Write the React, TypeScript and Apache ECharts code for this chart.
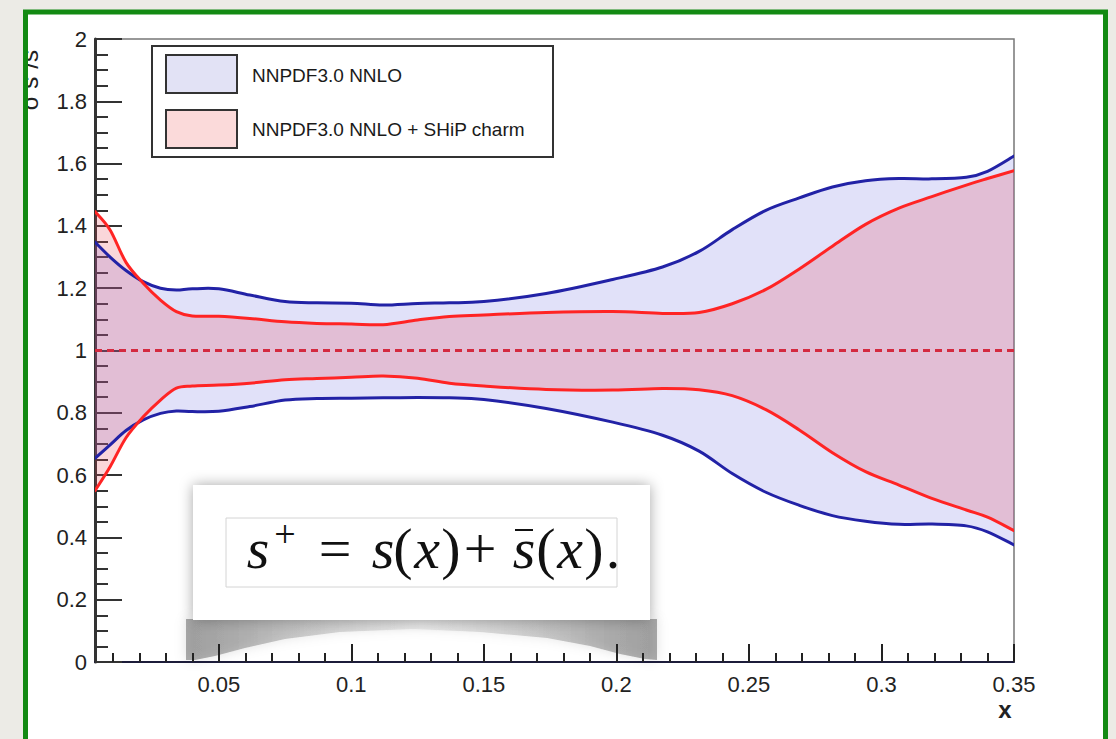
import React, { useEffect, useRef } from "react";
import * as echarts from "echarts";

// ---- data ----
const X = [0.0033, 0.009, 0.015, 0.0215, 0.028, 0.034, 0.04, 0.05, 0.0617, 0.075, 0.087, 0.1, 0.112, 0.125, 0.137, 0.15, 0.1735, 0.1986, 0.2174, 0.2312, 0.2437, 0.2564, 0.269, 0.2815, 0.294, 0.3066, 0.319, 0.332, 0.34, 0.35];
const blueUpper = [1.348, 1.300, 1.257, 1.221, 1.200, 1.194, 1.198, 1.198, 1.178, 1.157, 1.153, 1.152, 1.146, 1.151, 1.153, 1.157, 1.183, 1.228, 1.268, 1.318, 1.388, 1.450, 1.490, 1.525, 1.545, 1.552, 1.551, 1.556, 1.575, 1.624];
const blueLower = [0.654, 0.697, 0.743, 0.777, 0.798, 0.806, 0.804, 0.805, 0.820, 0.841, 0.846, 0.847, 0.848, 0.849, 0.848, 0.843, 0.814, 0.770, 0.728, 0.677, 0.605, 0.545, 0.503, 0.470, 0.452, 0.442, 0.443, 0.437, 0.418, 0.376];
const redUpper = [1.446, 1.387, 1.283, 1.216, 1.162, 1.125, 1.111, 1.110, 1.103, 1.092, 1.087, 1.085, 1.083, 1.098, 1.109, 1.114, 1.122, 1.125, 1.119, 1.122, 1.150, 1.196, 1.262, 1.335, 1.405, 1.457, 1.494, 1.531, 1.552, 1.577];
const redLower = [0.550, 0.627, 0.720, 0.787, 0.841, 0.879, 0.886, 0.889, 0.895, 0.906, 0.910, 0.914, 0.918, 0.911, 0.895, 0.886, 0.875, 0.873, 0.878, 0.874, 0.855, 0.810, 0.745, 0.672, 0.611, 0.568, 0.525, 0.488, 0.465, 0.422];
const centralValue = 1;

const X_MIN = 0.0033;
const X_MAX = 0.35;
const Y_MIN = 0;
const Y_MAX = 2;
const xMajorTicks = [0.05, 0.1, 0.15, 0.2, 0.25, 0.3, 0.35];
const xMinorTicks: number[] = [];
for (let i = 1; i <= 34; i++) xMinorTicks.push(i / 100);

const legendNames = ["NNPDF3.0 NNLO", "NNPDF3.0 NNLO + SHiP charm"];
const yTitle = "σ s⁺/s⁺";
const xTitle = "x";

const SANS = "'Liberation Sans', Arial, Helvetica, sans-serif";
const SERIF = "'Liberation Serif', 'Times New Roman', serif";
const PAPER = "#ecebe6";

function smoothPath(pts: number[][], move: boolean): string {
  let d = (move ? "M" : "L") + pts[0][0] + "," + pts[0][1];
  for (let i = 0; i < pts.length - 1; i++) {
    const p0 = pts[i - 1] || pts[i];
    const p1 = pts[i];
    const p2 = pts[i + 1];
    const p3 = pts[i + 2] || p2;
    const c1x = p1[0] + (p2[0] - p0[0]) / 6;
    const c1y = p1[1] + (p2[1] - p0[1]) / 6;
    const c2x = p2[0] - (p3[0] - p1[0]) / 6;
    const c2y = p2[1] - (p3[1] - p1[1]) / 6;
    d += " C" + c1x + "," + c1y + " " + c2x + "," + c2y + " " + p2[0] + "," + p2[1];
  }
  return d;
}

function bandSeries(name: string, upper: number[], lower: number[], fill: string) {
  return {
    name,
    type: "custom",
    coordinateSystem: "cartesian2d",
    clip: true,
    silent: true,
    data: X.map((x, i) => [x, upper[i], lower[i]]),
    encode: { x: 0, y: [1, 2] },
    renderItem: (params: any, api: any) => {
      if (params.dataIndex !== 0) return null;
      const up = X.map((x, i) => api.coord([x, upper[i]]));
      const lo = X.map((x, i) => api.coord([x, lower[i]])).reverse();
      const d = smoothPath(up, true) + " " + smoothPath(lo, false) + " Z";
      return { type: "path", shape: { pathData: d }, style: { fill, stroke: null } };
    },
  };
}

function curveSeries(name: string, vals: number[], color: string) {
  return {
    name,
    type: "custom",
    coordinateSystem: "cartesian2d",
    clip: true,
    silent: true,
    data: X.map((x, i) => [x, vals[i]]),
    encode: { x: 0, y: 1 },
    renderItem: (params: any, api: any) => {
      if (params.dataIndex !== 0) return null;
      const pts = X.map((x, i) => api.coord([x, vals[i]]));
      return {
        type: "path",
        shape: { pathData: smoothPath(pts, true) },
        style: { fill: null, stroke: color, lineWidth: 3, lineJoin: "round", lineCap: "round" },
      };
    },
  };
}

const formulaGlyphs: [string, number, boolean][] = [
  ["s", 258, true],
  ["=", 335, false],
  ["s", 383, true],
  ["(", 403, false],
  ["x", 427, true],
  [")", 451, false],
  ["+", 480, false],
  ["s", 524, true],
  ["(", 546, false],
  ["x", 570, true],
  [")", 594, false],
  [".", 613, false],
];

export default function App() {
  const ref = useRef<HTMLDivElement>(null);
  useEffect(() => {
    document.body.style.margin = "0";
    if (!ref.current) return;
    const chart = echarts.init(ref.current, undefined, { renderer: "svg" });
    const fmt = (v: number) => String(Math.round(v * 100) / 100);

    const formulaBaseY = 548;
    const formulaEls: any[] = formulaGlyphs.map(([t, x, it]) => ({
      type: "text",
      x,
      y: formulaBaseY,
      style: {
        text: t,
        fontSize: 58,
        fontFamily: SERIF,
        fontStyle: it ? "italic" : "normal",
        fill: "#111",
        align: "center",
        verticalAlign: "middle",
      },
    }));
    formulaEls.push({
      type: "text",
      x: 285,
      y: 534,
      style: { text: "+", fontSize: 38, fontFamily: SERIF, fill: "#111", align: "center", verticalAlign: "middle" },
    });
    formulaEls.push({
      type: "line",
      shape: { x1: 515, y1: 530, x2: 533, y2: 530 },
      style: { stroke: "#111", lineWidth: 2 },
    });

    const option: any = {
      animation: false,
      backgroundColor: PAPER,
      grid: {
        left: 95,
        top: 39,
        width: 919,
        height: 623,
        show: true,
        borderColor: "#777",
        borderWidth: 1.5,
        backgroundColor: "transparent",
      },
      xAxis: [
        {
          type: "value",
          min: X_MIN,
          max: X_MAX,
          position: "bottom",
          axisLine: { show: true, onZero: false, lineStyle: { color: "#1c1c3a", width: 2 } },
          axisTick: { show: true, inside: true, length: 9, customValues: xMinorTicks, lineStyle: { color: "#222", width: 2 } },
          axisLabel: { show: false },
          splitLine: { show: false },
        },
        {
          type: "value",
          min: X_MIN,
          max: X_MAX,
          position: "bottom",
          axisLine: { show: false, onZero: false },
          axisTick: { show: true, inside: true, length: 18, customValues: xMajorTicks, lineStyle: { color: "#222", width: 2 } },
          axisLabel: {
            show: true,
            customValues: xMajorTicks,
            margin: 11,
            fontSize: 22,
            color: "#222",
            fontFamily: SANS,
            formatter: fmt,
          },
          splitLine: { show: false },
        },
      ],
      yAxis: {
        type: "value",
        min: Y_MIN,
        max: Y_MAX,
        interval: 0.2,
        axisLine: { show: true, onZero: false, lineStyle: { color: "#333", width: 3 } },
        axisTick: { show: true, inside: true, length: 27, lineStyle: { color: "#333", width: 2 } },
        minorTick: { show: true, splitNumber: 4, length: 13, lineStyle: { color: "#333", width: 2 } },
        axisLabel: { fontSize: 22, margin: 8, color: "#222", fontFamily: SANS, formatter: fmt },
        splitLine: { show: false },
        minorSplitLine: { show: false },
      },
      series: [
        bandSeries(legendNames[0], blueUpper, blueLower, "rgba(105,105,225,0.2)"),
        bandSeries(legendNames[1], redUpper, redLower, "rgba(232,70,85,0.22)"),
        {
          name: "central",
          type: "line",
          silent: true,
          symbol: "none",
          data: [
            [X_MIN, centralValue],
            [X_MAX, centralValue],
          ],
          lineStyle: { color: "#d42a40", width: 3, type: [7, 5] },
          z: 3,
        },
        curveSeries("blueUpper", blueUpper, "#2222a6"),
        curveSeries("blueLower", blueLower, "#2222a6"),
        curveSeries("redUpper", redUpper, "#ff2424"),
        curveSeries("redLower", redLower, "#ff2424"),
      ],
      graphic: [
        { type: "rect", z: -10, silent: true, shape: { x: 25.5, y: 12, width: 1080, height: 800 }, style: { fill: "#ffffff" } },
        // page curl shadow under formula box
        {
          type: "polygon",
          z: -5,
          silent: true,
          shape: {
            points: [
              [186, 619], [657, 619], [657, 660], [645, 659], [620, 654], [590, 646], [547, 638], [480, 632],
              [413, 629], [340, 632], [285, 639], [245, 648], [215, 656], [195, 660], [186, 660],
            ],
          },
          style: {
            fill: {
              type: "linear", x: 0, y: 0, x2: 1, y2: 0,
              colorStops: [
                { offset: 0, color: "rgba(60,60,60,0.42)" },
                { offset: 0.12, color: "rgba(80,80,80,0.38)" },
                { offset: 0.5, color: "rgba(150,150,150,0.18)" },
                { offset: 0.88, color: "rgba(80,80,80,0.38)" },
                { offset: 1, color: "rgba(60,60,60,0.42)" },
              ],
            },
            shadowBlur: 12,
            shadowColor: "rgba(0,0,0,0.3)",
          },
        },
        {
          type: "group",
          z: 10,
          silent: true,
          children: [
            {
              type: "rect",
              shape: { x: 193, y: 485, width: 457, height: 135 },
              style: { fill: "#fff", shadowBlur: 14, shadowColor: "rgba(0,0,0,0.35)" },
            },
            {
              type: "rect",
              shape: { x: 226, y: 518, width: 391, height: 69 },
              style: { fill: "none", stroke: "#d4d4d4", lineWidth: 1 },
            },
            ...formulaEls,
          ],
        },
        // legend
        {
          type: "group",
          z: 10,
          silent: true,
          children: [
            { type: "rect", shape: { x: 152, y: 46, width: 401, height: 111 }, style: { fill: "#fff", stroke: "#333", lineWidth: 2 } },
            { type: "rect", shape: { x: 166, y: 55, width: 71, height: 38 }, style: { fill: "#e2e2f5", stroke: "#333", lineWidth: 2 } },
            { type: "rect", shape: { x: 166, y: 110, width: 71, height: 38 }, style: { fill: "#fbdada", stroke: "#333", lineWidth: 2 } },
            { type: "text", x: 252, y: 75, style: { text: legendNames[0], fontSize: 19, fontFamily: SANS, fill: "#1a1a1a", verticalAlign: "middle" } },
            { type: "text", x: 252, y: 129, style: { text: legendNames[1], fontSize: 19, fontFamily: SANS, fill: "#1a1a1a", verticalAlign: "middle" } },
          ],
        },
        { type: "text", z: 10, silent: true, x: 1005, y: 709, style: { text: xTitle, fontSize: 24, fontWeight: "bold", fontFamily: SANS, fill: "#222", align: "center", verticalAlign: "middle" } },
        // y title, partly hidden behind the frame
        {
          type: "text",
          z: 50,
          silent: true,
          x: 41,
          y: 42,
          rotation: Math.PI / 2,
          style: { text: yTitle, fontSize: 24, fontFamily: SANS, fill: "#222", align: "right", verticalAlign: "bottom" },
        },
        { type: "rect", z: 100, silent: true, shape: { x: 0, y: 0, width: 23, height: 739 }, style: { fill: PAPER } },
        { type: "rect", z: 101, silent: true, shape: { x: 25.5, y: 12, width: 1080, height: 800 }, style: { fill: "none", stroke: "#138a13", lineWidth: 5 } },
      ],
    };
    chart.setOption(option);
    return () => chart.dispose();
  }, []);
  return <div ref={ref} style={{ width: 1116, height: 739 }} />;
}
